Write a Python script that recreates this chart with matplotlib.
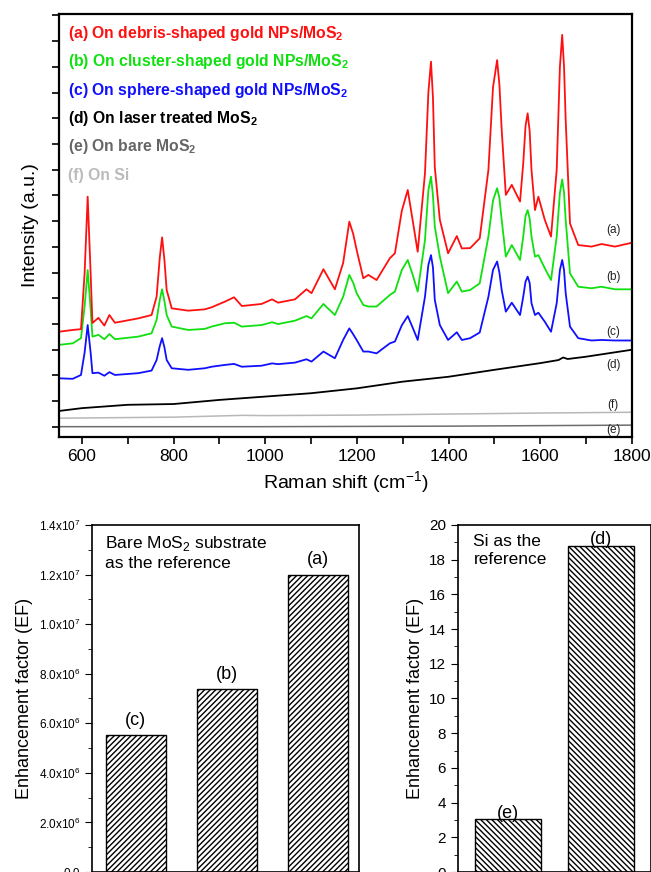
import numpy as np
import matplotlib
matplotlib.use('Agg')
import matplotlib.pyplot as plt
from matplotlib.ticker import FixedLocator, FuncFormatter, MultipleLocator

plt.rcParams['font.family'] = ['Liberation Sans', 'DejaVu Sans']
plt.rcParams['mathtext.fontset'] = 'custom'
plt.rcParams['mathtext.rm'] = 'Liberation Sans'
plt.rcParams['mathtext.bf'] = 'Liberation Sans:bold'
plt.rcParams['hatch.linewidth'] = 1.0

# Raman shift grid (cm-1) shared by the three SERS spectra
shift = [550, 580, 598, 606, 612.6, 619, 623, 636, 649, 660, 672, 723, 752, 763, 770, 775, 780, 785,
         796, 832, 868, 883, 912, 932, 949, 992, 1015, 1028, 1065, 1090, 1101, 1127, 1152, 1170,
         1183.5, 1192, 1199.5, 1214, 1225, 1243, 1272, 1283, 1298, 1311, 1322, 1332.7, 1348.6, 1356,
         1361.7, 1366, 1370, 1381, 1399, 1418, 1429, 1447, 1468, 1487, 1497, 1506, 1511, 1516, 1525,
         1538, 1556, 1563, 1568, 1572.6, 1577, 1581, 1588.6, 1596, 1610, 1623.6, 1636, 1643, 1648,
         1652, 1655.6, 1665, 1683, 1712, 1734, 1763, 1800]

spec_a = [3.70, 3.77, 3.80, 6.0, 8.95, 6.0, 4.04, 4.24, 3.94, 4.35, 4.05, 4.22, 4.35, 5.06, 6.6, 7.37, 6.5, 5.32,
          4.61, 4.52, 4.57, 4.65, 4.87, 5.04, 4.70, 4.78, 4.96, 4.83, 4.96, 5.35, 5.20, 6.13, 5.35, 6.37,
          7.98, 7.5, 6.88, 5.78, 5.91, 5.71, 6.56, 6.75, 8.4, 9.21, 8.0, 6.81, 9.86, 13.0,
          14.2, 12.8, 10.1, 8.05, 6.75, 7.42, 6.94, 6.95, 7.33, 9.99, 13.2, 14.26, 13.3, 11.54, 9.02,
          9.41, 8.76, 10.25, 11.7, 12.19, 11.5, 9.99, 8.43, 8.95, 8.05, 7.40, 9.99, 14.0, 15.24,
          14.0, 11.93, 7.91, 7.07, 7.01, 7.11, 7.01, 7.16]

spec_b = [3.19, 3.25, 3.45, 4.7, 6.10, 4.6, 3.51, 3.58, 3.41, 3.61, 3.41, 3.51, 3.64, 4.16, 4.95, 5.35, 4.9, 4.35,
          3.90, 3.77, 3.81, 3.90, 4.03, 4.05, 3.90, 3.96, 4.07, 4.00, 4.13, 4.31, 4.22, 4.78, 4.35, 5.06,
          5.91, 5.6, 5.20, 4.74, 4.68, 4.68, 5.13, 5.26, 6.1, 6.49, 5.9, 5.26, 7.27, 9.2,
          9.73, 9.0, 7.79, 6.62, 5.20, 5.65, 5.26, 5.32, 5.58, 7.40, 8.8, 9.28, 8.9, 8.05, 6.62,
          7.07, 6.49, 7.40, 8.2, 8.43, 8.1, 7.40, 6.62, 6.68, 6.17, 5.71, 7.40, 9.1, 9.62,
          9.1, 8.05, 5.97, 5.45, 5.39, 5.45, 5.35, 5.35]

spec_c = [1.89, 1.87, 2.02, 2.9, 3.96, 2.9, 2.09, 2.11, 1.99, 2.13, 2.02, 2.09, 2.19, 2.60, 3.15, 3.45, 3.1, 2.60,
          2.28, 2.22, 2.28, 2.34, 2.41, 2.45, 2.34, 2.38, 2.47, 2.44, 2.50, 2.63, 2.54, 2.93, 2.67, 3.38,
          3.83, 3.6, 3.38, 2.93, 2.93, 2.86, 3.25, 3.32, 3.95, 4.31, 3.85, 3.38, 5.06, 6.3,
          6.68, 6.2, 4.94, 3.96, 3.38, 3.68, 3.38, 3.45, 3.67, 5.06, 6.1, 6.43, 6.0, 5.32, 4.48,
          4.83, 4.35, 5.06, 5.65, 5.84, 5.6, 4.81, 4.35, 4.44, 4.09, 3.70, 4.81, 6.1, 6.49,
          6.1, 5.20, 3.90, 3.45, 3.36, 3.38, 3.36, 3.36]

# laser treated MoS2, Si and bare MoS2 (no peaks)
shift_d = [550, 600, 700, 800, 900, 1000, 1100, 1200, 1300, 1400, 1500, 1600, 1640, 1650, 1660, 1700, 1800]
spec_d = [0.62, 0.73, 0.86, 0.89, 1.05, 1.18, 1.31, 1.50, 1.76, 1.95, 2.22, 2.48, 2.60, 2.70, 2.64, 2.73, 3.00]
shift_f = [550, 800, 950, 1000, 1200, 1400, 1600, 1800]
spec_f = [0.34, 0.38, 0.45, 0.44, 0.46, 0.50, 0.54, 0.57]
shift_e = [550, 1000, 1400, 1600, 1800]
spec_e = [0.01, 0.01, 0.03, 0.05, 0.07]

trace_tags = ['(a)', '(b)', '(c)', '(d)', '(f)', '(e)']
trace_tag_y = [7.66, 5.83, 3.69, 2.41, 0.86, -0.12]

legend_lines = [r'(a) On debris-shaped gold NPs/MoS$_\mathbf{2}$',
                r'(b) On cluster-shaped gold NPs/MoS$_\mathbf{2}$',
                r'(c) On sphere-shaped gold NPs/MoS$_\mathbf{2}$',
                r'(d) On laser treated MoS$_\mathbf{2}$',
                r'(e) On bare MoS$_\mathbf{2}$',
                '(f) On Si']

# enhancement factors
ef_labels_mos2 = ['(c)', '(b)', '(a)']
ef_mos2 = [5.52e6, 7.38e6, 1.2e7]
ef_labels_si = ['(e)', '(d)']
ef_si = [3.05, 18.8]

red, green, blue = '#ff1010', '#10e010', '#1010ff'
dgrey, lgrey = '#6e6e6e', '#b8b8b8'

fig = plt.figure(figsize=(6.51, 8.72), dpi=100)

# ---- Raman spectra ----
ax = fig.add_axes([0.0906, 0.4989, 0.880, 0.485])
ax.plot(shift_e, spec_e, color=dgrey, lw=1.1)
ax.plot(shift_f, spec_f, color=lgrey, lw=1.1)
ax.plot(shift_d, spec_d, color='black', lw=1.3)
ax.plot(shift, spec_c, color=blue, lw=1.3)
ax.plot(shift, spec_b, color=green, lw=1.3)
ax.plot(shift, spec_a, color=red, lw=1.3)
ax.set_xlim(550, 1800)
ax.set_ylim(-0.39, 16.05)
ax.xaxis.set_major_locator(MultipleLocator(200))
ax.xaxis.set_minor_locator(MultipleLocator(100))
ax.yaxis.set_major_locator(FixedLocator(range(0, 17)))
ax.set_yticklabels([])
ax.tick_params(axis='both', which='both', direction='out', length=5, width=1.2, top=False, right=False)
ax.tick_params(axis='x', labelsize=12.5)
for s in ax.spines.values():
    s.set_linewidth(1.6)
ax.set_xlabel('Raman shift (cm$^{-1}$)', fontsize=14)
ax.set_ylabel('Intensity (a.u.)', fontsize=14, labelpad=6)

for tag, ty in zip(trace_tags, trace_tag_y):
    ax.text(1759, ty, tag, fontsize=8.5, ha='center', va='center', color='#222222')

leg_colors = [red, green, blue, 'black', '#666666', '#bbbbbb']
leg_y = [0.955, 0.887, 0.820, 0.754, 0.686, 0.619]
for txt, c, ly in zip(legend_lines, leg_colors, leg_y):
    ax.text(0.016, ly, txt, transform=ax.transAxes, color=c, fontsize=11.3, fontweight='bold',
            ha='left', va='center')

# ---- EF with bare MoS2 as reference ----
ax2 = fig.add_axes([0.1413, 0.0, 0.410, 0.398])
pos2 = np.arange(1, len(ef_mos2) + 1)
ax2.bar(pos2, ef_mos2, width=0.66, color='white', edgecolor='black', hatch='//////', linewidth=1.0)
for p, v, l in zip(pos2, ef_mos2, ef_labels_mos2):
    ax2.text(p, v + 2.5e5, l, ha='center', va='bottom', fontsize=13)
ax2.set_xlim(0.52, 3.45)
ax2.set_ylim(0, 1.4e7)
ax2.set_xticks([])
ax2.yaxis.set_major_locator(MultipleLocator(2e6))
ax2.yaxis.set_minor_locator(MultipleLocator(1e6))


def sci(v, pos):
    if v <= 0:
        return '0.0'
    e = int(np.floor(np.log10(v)))
    return '%.1fx10$^{%d}$' % (v / 10 ** e, e)


ax2.yaxis.set_major_formatter(FuncFormatter(sci))
ax2.tick_params(axis='y', which='major', direction='out', length=5, labelsize=8.5)
ax2.tick_params(axis='y', which='minor', direction='out', length=3)
for s in ax2.spines.values():
    s.set_linewidth(1.2)
ax2.set_ylabel('Enhancement factor (EF)', fontsize=13)
ax2.text(0.05, 0.975, 'Bare MoS$_2$ substrate\nas the reference', transform=ax2.transAxes,
         fontsize=12.5, ha='left', va='top', linespacing=1.3)

# ---- EF with Si as reference ----
ax3 = fig.add_axes([0.7035, 0.0, 0.2965, 0.398])
pos3 = np.arange(1, len(ef_si) + 1)
ax3.bar(pos3, ef_si, width=0.71, color='white', edgecolor='black', hatch='\\\\\\\\\\\\', linewidth=1.0)
for p, v, l in zip(pos3, ef_si, ef_labels_si):
    ax3.text(p, v - 0.15, l, ha='center', va='bottom', fontsize=13)
ax3.set_xlim(0.46, 2.54)
ax3.set_ylim(0, 20)
ax3.set_xticks([])
ax3.yaxis.set_major_locator(MultipleLocator(2))
ax3.yaxis.set_minor_locator(MultipleLocator(1))
ax3.tick_params(axis='y', which='major', direction='out', length=5, labelsize=11)
ax3.tick_params(axis='y', which='minor', direction='out', length=3)
for s in ax3.spines.values():
    s.set_linewidth(1.2)
ax3.set_ylabel('Enhancement factor (EF)', fontsize=13)
ax3.text(0.08, 0.975, 'Si as the\nreference', transform=ax3.transAxes,
         fontsize=12.5, ha='left', va='top', linespacing=1.3)

fig.savefig('out.png', dpi=100)
